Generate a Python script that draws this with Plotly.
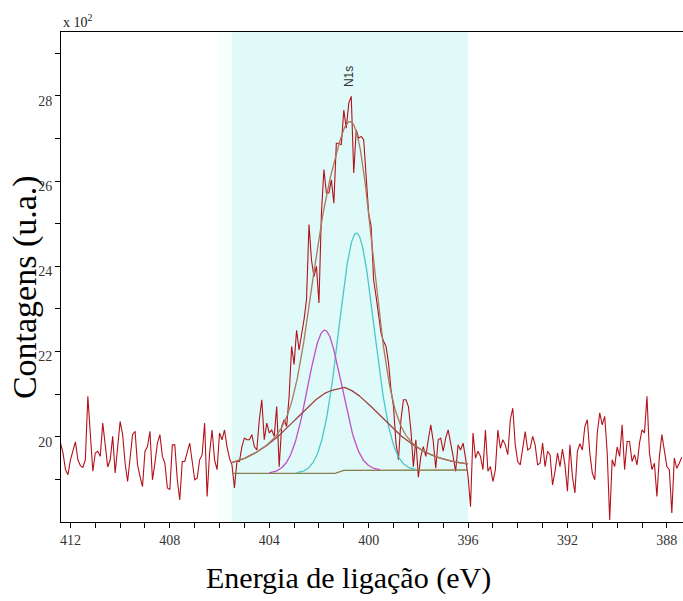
import numpy as np
import plotly.graph_objects as go

# N1s region scan: binding energy grid (eV) and measured counts
energy_start = 412.4
energy_step = 0.1
counts = [
    1985, 1962, 1923, 1911, 1946, 1966, 1988, 1946, 1932, 1928,
    1946, 2095, 1993, 1919, 1962, 1966, 1954, 2032, 1981, 1929,
    1946, 2001, 1915, 1970, 2036, 2005, 1938, 1895, 1958, 2005,
    2013, 1934, 1907, 1883, 1966, 1977, 2013, 1899, 1938, 1985,
    2005, 1954, 1938, 1880, 1876, 1981, 1981, 1899, 1852, 1942,
    1942, 1966, 1985, 1942, 1899, 1903, 1946, 1958, 2032, 1860,
    1962, 2016, 1946, 1923, 2009, 1993, 2016, 1977, 1950, 1934,
    1880, 1942, 1942, 1977, 1997, 1993, 1993, 2005, 1977, 1969,
    2040, 2087, 1993, 2032, 2009, 2016, 2001, 2071, 1930, 2024,
    2040, 2024, 2095, 2212, 2170, 2250, 2204, 2240, 2275, 2322,
    2498, 2415, 2376, 2400, 2314, 2525, 2627, 2572, 2572, 2603,
    2548, 2689, 2689, 2685, 2767, 2724, 2783, 2799, 2619, 2720,
    2701, 2705, 2697, 2611, 2525, 2494, 2368, 2329, 2282, 2243,
    2224, 2212, 2173, 2110, 2071, 1985, 1946, 2040, 2087, 2087,
    2071, 2016, 1930, 1993, 1905, 1954, 1977, 1954, 1993, 2028,
    1989, 1926, 1993, 1997, 1966, 1997, 2016, 1989, 1954, 1919,
    1981, 1969, 1985, 1950, 1907, 1836, 2009, 1950, 1966, 1954,
    1923, 2016, 1919, 1930, 1895, 1923, 2016, 1973, 1993, 1981,
    1958, 2040, 2067, 1981, 1942, 1934, 1977, 2012, 1969, 1973,
    2001, 1981, 1934, 1938, 1985, 1930, 1966, 1958, 1887, 1919,
    1962, 1930, 1971, 1934, 1872, 1981, 1907, 1868, 1966, 1984,
    1969, 2024, 2040, 1962, 1915, 1899, 2009, 2056, 2028, 2048,
    1962, 1805, 1946, 1930, 1976, 1954, 2028, 1923, 1989, 1989,
    1942, 1958, 1934, 1985, 2016, 2009, 2095, 1962, 1923, 1938,
    1860, 1954, 2005, 1966, 1930, 1923, 1821, 1950, 1926, 1938,
    1952,
]
energy = np.round(energy_start - energy_step * np.arange(len(counts)), 2)

# fitting window
fit_window = [405.5, 396.0]

# background under the fit (eV, counts)
bg_energy = [405.5, 401.35, 401.0, 396.0]
bg_counts = [1914, 1914, 1921, 1922]

# fitted components: centre (eV), height above background, FWHM (eV), Lorentzian fraction
comp_center = [400.49, 401.77, 401.23]
comp_height = [557, 336, 197]
comp_fwhm = [1.66, 1.60, 4.40]
comp_lorentz = [0.0, 0.0, 0.4]

y_ticks = [2000, 2200, 2400, 2600, 2800]
y_tick_text = ["20", "22", "24", "26", "28"]
y_minor = [1900, 2100, 2300, 2500, 2700, 2900]
x_ticks = [412, 408, 404, 400, 396, 392, 388]
x_minor = list(range(388, 413))


def pseudo_voigt(e, c, h, w, m):
    u = ((e - c) / w) ** 2
    g = np.exp(-4 * np.log(2) * u)
    lor = 1.0 / (1.0 + 4 * u)
    return h * ((1 - m) * g + m * lor)


e_fit = np.linspace(fit_window[0], fit_window[1], 381)
bg_fit = np.interp(e_fit, bg_energy[::-1], bg_counts[::-1])
components = [pseudo_voigt(e_fit, c, h, w, m)
              for c, h, w, m in zip(comp_center, comp_height, comp_fwhm, comp_lorentz)]
envelope = bg_fit + sum(components)

fig = go.Figure()

fig.add_trace(go.Scatter(x=energy, y=counts, mode="lines",
                         line=dict(color="#b3121a", width=1.1), hoverinfo="skip"))

fig.add_trace(go.Scatter(x=bg_energy, y=bg_counts, mode="lines",
                         line=dict(color="#8a7d4c", width=1.3)))

comp_colors = ["#4cc6c6", "#c34fc3", "#a0403f"]
for comp, col in zip(components, comp_colors):
    y = np.where(comp > 1.5, bg_fit + comp, np.nan)
    fig.add_trace(go.Scatter(x=e_fit, y=y, mode="lines",
                             line=dict(color=col, width=1.3)))

fig.add_trace(go.Scatter(x=e_fit, y=envelope, mode="lines",
                         line=dict(color="#a97a5c", width=1.3)))

# highlighted fitting window, with a soft edge on its high-energy side
fig.add_shape(type="rect", xref="x", yref="paper", x0=406.1, x1=fit_window[0], y0=0, y1=1,
              fillcolor="#f7fefe", line=dict(width=0), layer="below")
fig.add_shape(type="rect", xref="x", yref="paper", x0=fit_window[0], x1=fit_window[1], y0=0, y1=1,
              fillcolor="#e0fafa", line=dict(width=0), layer="below")

tick_font = dict(family="Liberation Serif", size=14, color="#333333")

fig.update_xaxes(
    range=[412.38, 387.35], showgrid=False, zeroline=False,
    showline=True, linecolor="#000000", linewidth=1, mirror=True,
    tickmode="array", tickvals=x_ticks, ticks="outside", ticklen=5,
    tickcolor="#000000", tickfont=tick_font,
    minor=dict(tickmode="array", tickvals=x_minor, ticks="outside", ticklen=5,
               tickcolor="#000000", showgrid=False),
)
fig.update_yaxes(
    range=[1800, 2950], showgrid=False, zeroline=False,
    showline=True, linecolor="#000000", linewidth=1,
    tickmode="array", tickvals=y_ticks, ticktext=y_tick_text,
    ticks="outside", ticklen=5, tickcolor="#000000", tickfont=tick_font,
    ticklabelshift=5, ticklabelstandoff=0,
    minor=dict(tickmode="array", tickvals=y_minor, ticks="outside", ticklen=5,
               tickcolor="#000000", showgrid=False),
)

fig.add_annotation(text="N1s", x=400.76, y=2846, xref="x", yref="y",
                   textangle=-90, showarrow=False,
                   font=dict(family="Liberation Sans", size=12, color="#333333"))
fig.add_annotation(text="x 10<sup>2</sup>", x=0, y=1, xref="paper", yref="paper",
                   xanchor="left", yanchor="bottom", showarrow=False,
                   font=dict(family="Liberation Serif", size=14, color="#222222"))
fig.add_annotation(text="Energia de ligação (eV)", x=0.463, y=-0.114,
                   xref="paper", yref="paper", xanchor="center", yanchor="middle",
                   showarrow=False,
                   font=dict(family="Liberation Serif", size=30, color="#000000"))
fig.add_annotation(text="Contagens (u.a.)", x=-0.059, y=0.48,
                   xref="paper", yref="paper", xanchor="center", yanchor="middle",
                   textangle=-90, showarrow=False,
                   font=dict(family="Liberation Serif", size=34, color="#000000"))

fig.update_layout(
    width=683, height=601,
    margin=dict(l=61, r=0, t=32, b=79),
    paper_bgcolor="#ffffff", plot_bgcolor="#ffffff",
    showlegend=False,
)

fig.write_html("out.html")
